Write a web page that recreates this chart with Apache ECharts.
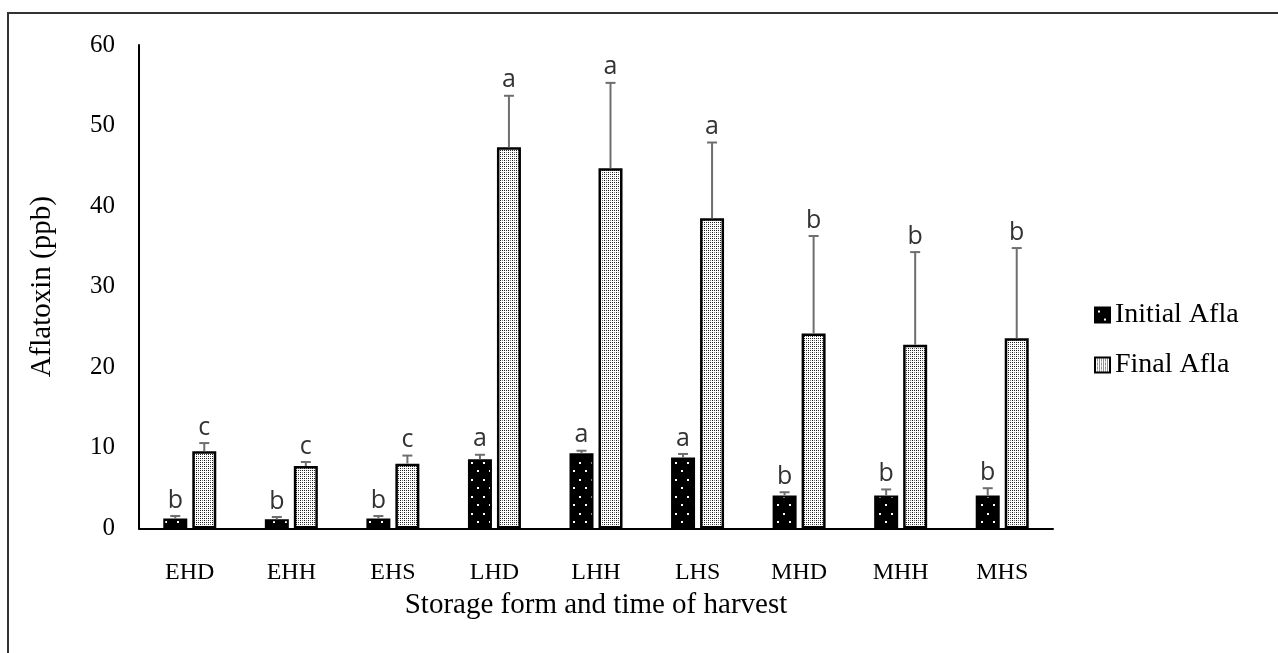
<!DOCTYPE html>
<html>
<head>
<meta charset="utf-8">
<script src="https://cdn.jsdelivr.net/npm/echarts@6/dist/echarts.min.js"></script>
<style>
html,body{margin:0;padding:0;background:#fff;}
#chart{width:1278px;height:653px;}
</style>
</head>
<body>
<div id="chart"></div>
<script>
const categories = ['EHD','EHH','EHS','LHD','LHH','LHS','MHD','MHH','MHS'];
const initialAfla = [1.25, 1.15, 1.25, 8.6, 9.35, 8.8, 4.1, 4.1, 4.1];
const initialErr = [0.3, 0.28, 0.3, 0.55, 0.3, 0.45, 0.4, 0.75, 0.9];
const initialLetters = ['b','b','b','a','a','a','b','b','b'];
const finalAfla = [9.6, 7.75, 8.05, 47.3, 44.7, 38.5, 24.2, 22.8, 23.6];
const finalErr = [1.0, 0.5, 1.0, 6.4, 10.6, 9.4, 12.1, 11.5, 11.2];
const finalLetters = ['c','c','c','a','a','a','b','b','b'];
const yTicks = [0, 10, 20, 30, 40, 50, 60];

function makeInitialPattern(){
  const c = document.createElement('canvas');
  c.width = 12; c.height = 17;
  const g = c.getContext('2d');
  g.fillStyle = '#000'; g.fillRect(0,0,12,17);
  g.fillStyle = '#fff';
  g.fillRect(3,3,2,2);
  g.fillRect(9,11,2,2);
  return c;
}
function makeFinalPattern(){
  const c = document.createElement('canvas');
  c.width = 4; c.height = 4;
  const g = c.getContext('2d');
  g.fillStyle = '#fff'; g.fillRect(0,0,4,4);
  g.fillStyle = '#222';
  g.fillRect(0,0,1,1);
  g.fillRect(2,2,1,1);
  g.fillRect(0,2,1,1);
  g.fillStyle = '#777';
  g.fillRect(2,0,1,1);
  return c;
}

const BAR_W = 24, GAP = 5;
const OFFSET = (BAR_W + GAP) / 2;

function errSeries(values, errs, letters, sign){
  return {
    type: 'custom',
    z: 5,
    silent: true,
    data: values.map((v,i)=>[i, v, errs[i], letters[i]]),
    renderItem: function(params, api){
      const i = api.value(0);
      const v = api.value(1);
      const e = api.value(2);
      const base = api.coord([i, v]);
      const top = api.coord([i, v + e]);
      const x = base[0] + sign * OFFSET;
      return {
        type: 'group',
        children: [
          {type:'line', shape:{x1:x, y1:base[1], x2:x, y2:top[1]}, style:{stroke:'#6e6e6e', lineWidth:2}},
          {type:'line', shape:{x1:x-5, y1:top[1], x2:x+5, y2:top[1]}, style:{stroke:'#6e6e6e', lineWidth:2}},
          {type:'text', style:{x:x, y:top[1]-3, text:letters[i], textAlign:'center', textVerticalAlign:'bottom',
            fontFamily:'"Open Sans", "Liberation Sans", sans-serif', fontSize:25, fill:'#333'}}
        ]
      };
    }
  };
}

const chart = echarts.init(document.getElementById('chart'));
const option = {
  backgroundColor: '#fff',
  animation: false,
  textStyle: {fontFamily: '"Liberation Serif", "DejaVu Serif", serif'},
  graphic: [{
    type: 'polyline',
    shape: {points: [[8, 660], [8, 13], [1290, 13]]},
    style: {stroke: '#333', lineWidth: 2, fill: null}
  }],
  grid: {left: 139, top: 45, right: 225, bottom: 124.5, containLabel: false},
  legend: {
    orient: 'vertical',
    left: 1089,
    top: 296,
    itemWidth: 15,
    itemHeight: 15,
    itemGap: 22,
    icon: 'rect',
    textStyle: {fontFamily: '"Liberation Serif", serif', fontSize: 28, color: '#000'},
    data: ['Initial Afla', 'Final Afla']
  },
  xAxis: {
    type: 'category',
    data: categories,
    name: 'Storage form and time of harvest',
    nameLocation: 'middle',
    nameGap: 62,
    nameTextStyle: {fontFamily: '"Liberation Serif", serif', fontSize: 29, color: '#000'},
    axisLine: {lineStyle: {color: '#000', width: 2}},
    axisTick: {show: false},
    axisLabel: {fontFamily: '"Liberation Serif", serif', fontSize: 24, color: '#000', margin: 32}
  },
  yAxis: {
    type: 'value',
    min: 0, max: 60, interval: 10,
    name: 'Aflatoxin (ppb)',
    nameLocation: 'middle',
    nameGap: 82,
    nameRotate: 90,
    nameTextStyle: {fontFamily: '"Liberation Serif", serif', fontSize: 29, color: '#000'},
    axisLine: {show: true, lineStyle: {color: '#000', width: 2}},
    axisTick: {show: false},
    splitLine: {show: false},
    axisLabel: {fontFamily: '"Liberation Serif", serif', fontSize: 25, color: '#000', margin: 24,
      formatter: function(v){ return yTicks.indexOf(v) >= 0 ? String(v) : ''; }}
  },
  series: [
    {
      name: 'Initial Afla',
      type: 'bar',
      barWidth: BAR_W,
      barGap: (GAP / BAR_W * 100) + '%',
      data: initialAfla,
      itemStyle: {color: {image: makeInitialPattern(), repeat: 'repeat'}, borderColor: '#000', borderWidth: 2}
    },
    {
      name: 'Final Afla',
      type: 'bar',
      barWidth: BAR_W,
      data: finalAfla,
      itemStyle: {color: {image: makeFinalPattern(), repeat: 'repeat'}, borderColor: '#000', borderWidth: 2.5}
    },
    errSeries(initialAfla, initialErr, initialLetters, -1),
    errSeries(finalAfla, finalErr, finalLetters, 1)
  ]
};
chart.setOption(option);
</script>
</body>
</html>
